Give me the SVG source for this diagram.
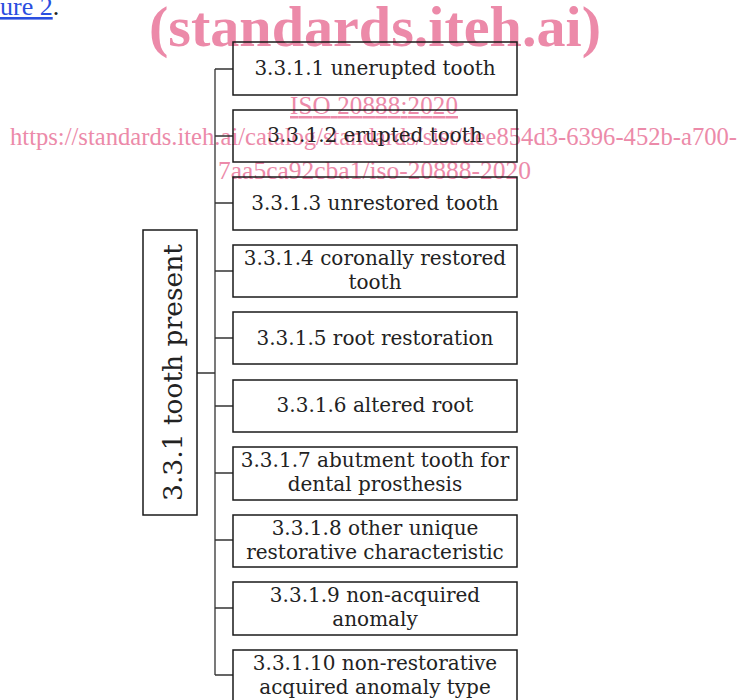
<svg xmlns="http://www.w3.org/2000/svg" width="737" height="700" viewBox="0 0 737 700">
<style>
.box{fill:none;stroke:#1a1a1a;stroke-width:1.5}
.t{font-family:"DejaVu Serif","Liberation Serif",serif;font-size:20px;fill:#222;text-anchor:middle}
.wm{font-family:"Liberation Serif",serif;fill:#ec8aa9}
.c{fill:none;stroke:#333;stroke-width:1.3}
</style>
<rect width="737" height="700" fill="#fff"/>
<g id="watermark">
<text x="0" y="15" style="font-family:'Liberation Serif',serif;font-size:26px;fill:#2a4ee0"><tspan text-decoration="underline">ure 2</tspan><tspan fill="#222">.</tspan></text>
<text class="wm" x="375" y="46" text-anchor="middle" font-weight="bold" font-size="58" textLength="452" lengthAdjust="spacingAndGlyphs">(standards.iteh.ai)</text>
<text class="wm" x="374" y="114" text-anchor="middle" font-size="25" text-decoration="underline" textLength="168">ISO 20888:2020</text>
<text class="wm" x="10" y="145" font-size="25" textLength="727" lengthAdjust="spacingAndGlyphs">https://standards.iteh.ai/catalog/standards/sist/dee854d3-6396-452b-a700-</text>
<text class="wm" x="218" y="179" font-size="25" textLength="313" lengthAdjust="spacingAndGlyphs">7aa5ca92cba1/iso-20888-2020</text>
</g>
<g id="connectors">
<path class="c" d="M215 69 V675 M197 373 H215"/>
<path class="c" d="M215 69 H233 M215 136 H233 M215 203 H233 M215 271 H233 M215 338 H233 M215 406 H233 M215 473 H233 M215 540 H233 M215 608 H233 M215 675 H233"/>
</g>
<g id="root"><rect class="box" x="143" y="230" width="54" height="285"/>
<text transform="translate(182 372.5) rotate(-90)" class="t" style="font-size:26.5px">3.3.1 tooth present</text></g>
<g id="n1"><rect class="box" x="233" y="42" width="284" height="53"/><text class="t" x="375" y="75">3.3.1.1 unerupted tooth</text></g>
<g id="n2"><rect class="box" x="233" y="110" width="284" height="52"/><text class="t" x="375" y="142">3.3.1.2 erupted tooth</text></g>
<g id="n3"><rect class="box" x="233" y="177" width="284" height="53"/><text class="t" x="375" y="210">3.3.1.3 unrestored tooth</text></g>
<g id="n4"><rect class="box" x="233" y="245" width="284" height="52"/><text class="t" x="375" y="265">3.3.1.4 coronally restored</text><text class="t" x="375" y="289">tooth</text></g>
<g id="n5"><rect class="box" x="233" y="312" width="284" height="52"/><text class="t" x="375" y="345">3.3.1.5 root restoration</text></g>
<g id="n6"><rect class="box" x="233" y="380" width="284" height="52"/><text class="t" x="375" y="412">3.3.1.6 altered root</text></g>
<g id="n7"><rect class="box" x="233" y="447" width="284" height="53"/><text class="t" x="375" y="467">3.3.1.7 abutment tooth for</text><text class="t" x="375" y="491">dental prosthesis</text></g>
<g id="n8"><rect class="box" x="233" y="515" width="284" height="52"/><text class="t" x="375" y="535">3.3.1.8 other unique</text><text class="t" x="375" y="559">restorative characteristic</text></g>
<g id="n9"><rect class="box" x="233" y="582" width="284" height="53"/><text class="t" x="375" y="602">3.3.1.9 non-acquired</text><text class="t" x="375" y="626">anomaly</text></g>
<g id="n10"><rect class="box" x="233" y="650" width="284" height="60"/><text class="t" x="375" y="670">3.3.1.10 non-restorative</text><text class="t" x="375" y="694">acquired anomaly type</text></g>
</svg>
